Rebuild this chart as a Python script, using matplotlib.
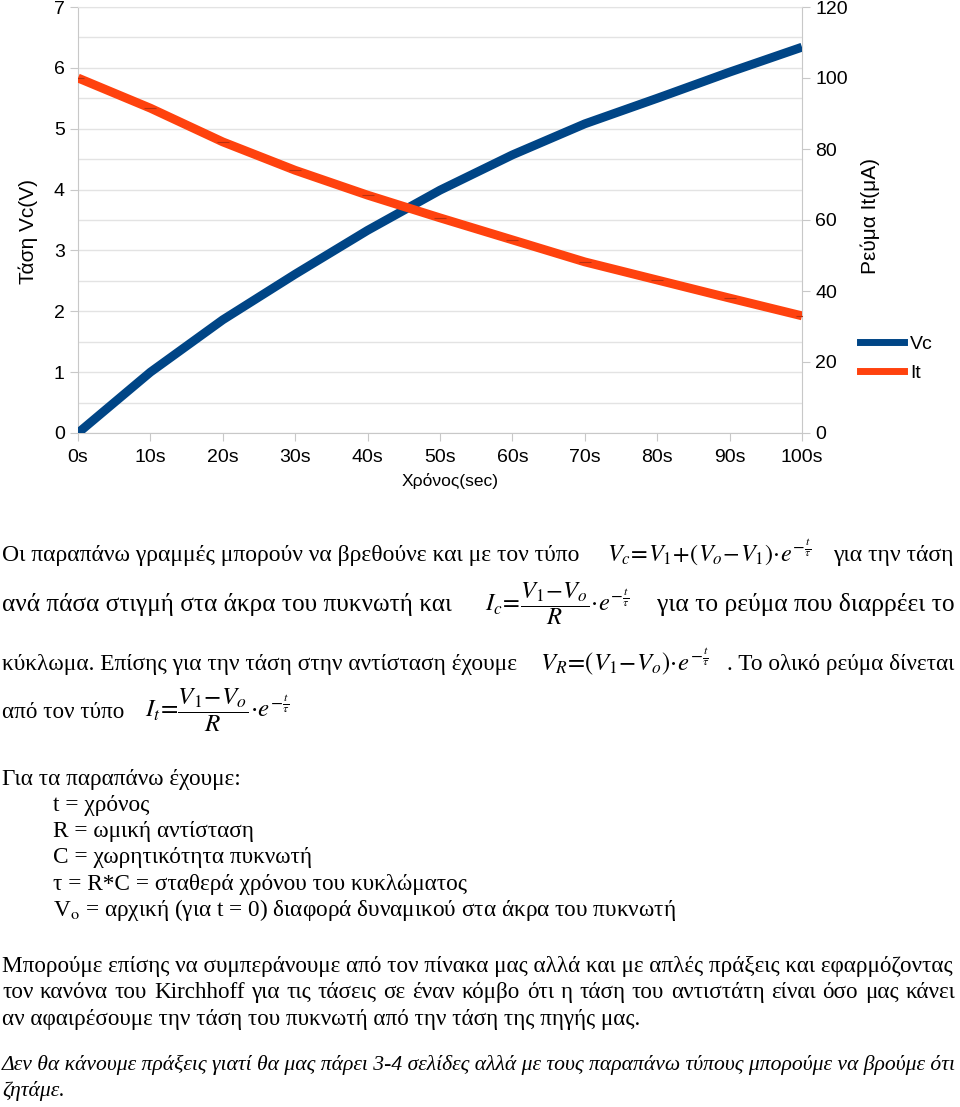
import matplotlib
matplotlib.use('Agg')
import matplotlib.pyplot as plt
from matplotlib.lines import Line2D
import numpy as np

plt.rcParams['font.family'] = ['Liberation Sans', 'DejaVu Sans']
plt.rcParams['mathtext.fontset'] = 'stix'

# data
times = [0, 10, 20, 30, 40, 50, 60, 70, 80, 90, 100]
time_labels = ['0s', '10s', '20s', '30s', '40s', '50s', '60s', '70s', '80s', '90s', '100s']
vc = [0.0, 1.0, 1.86, 2.61, 3.33, 3.99, 4.57, 5.08, 5.5, 5.93, 6.34]
it = [100, 91.5, 82, 74, 67, 60.6, 54.4, 48.2, 43.1, 38, 33]

blue = '#004586'
orange = '#ff420e'
grid_c = '#e3e3e3'
axis_c = '#c8c8c8'

W, H = 960, 1107
fig = plt.figure(figsize=(W / 100, H / 100), dpi=100)

# chart
ax = fig.add_axes([78 / W, 1 - 433 / H, (802 - 78) / W, (433 - 7) / H])
ax.plot(times, vc, color=blue, lw=6.4, solid_capstyle='butt', zorder=3)
ax.set_xlim(0, 100)
ax.set_ylim(0, 7)
ax.set_xticks(times)
ax.set_xticklabels(time_labels)
ax.set_yticks(range(8))
ax.set_yticks(np.arange(0.5, 7, 1), minor=True)
ax.grid(axis='y', which='both', color=grid_c, lw=1)
ax.set_axisbelow(True)
for sp in ax.spines.values():
    sp.set_color(axis_c)
ax.spines['top'].set_color(grid_c)
ax.tick_params(axis='both', which='major', labelsize=14, color=axis_c, length=5.5, pad=4)
ax.tick_params(axis='x', pad=6)
ax.tick_params(axis='y', which='minor', length=0)

ax2 = ax.twinx()
ax2.plot(times, it, color=orange, lw=6.4, solid_capstyle='butt', zorder=3,
         marker='_', markersize=9, markeredgecolor='#b83010', markeredgewidth=0.8)
ax2.set_ylim(0, 120)
ax2.set_yticks(range(0, 121, 20))
for sp in ax2.spines.values():
    sp.set_visible(False)
ax2.tick_params(axis='y', labelsize=14, color=axis_c, length=5.5, pad=4)

handles = [Line2D([], [], color=blue, lw=5), Line2D([], [], color=orange, lw=5)]
fig.legend(handles, ['Vc', 'It'], loc='upper left', bbox_to_anchor=(860 / W, 1 - 335 / H),
           bbox_transform=fig.transFigure, frameon=False, fontsize=14, borderpad=0,
           borderaxespad=0, handlelength=2.27, handletextpad=0.3, labelspacing=0.62)

# text layer in pixel coordinates
tx = fig.add_axes([0, 0, 1, 1])
tx.set_xlim(0, W)
tx.set_ylim(H, 0)
tx.axis('off')

tx.text(450, 481, 'Χρόνος(sec)', fontsize=12.5, ha='center', va='center')
tx.text(28, 232, 'Τάση Vc(V)', fontsize=15, rotation=90, ha='center', va='center')
tx.text(870, 216, 'Ρεύμα It(μA)', fontsize=15, rotation=90, ha='center', va='center')

rend = fig.canvas.get_renderer()


def width(t):
    return t.get_window_extent(renderer=rend).width


def put(x0, x1, y, s, size, just=False, **kw):
    # place a line of text; justify it to x1 or scale it to fit x1
    kw.setdefault('family', 'Liberation Serif')
    t = tx.text(x0, y, s, fontsize=size, ha='left', va='baseline', **kw)
    if x1 is None:
        return size
    w = width(t)
    if just and w < x1 - x0 and ' ' in s:
        t.remove()
        words = s.split(' ')
        parts = [tx.text(0, y, wd, fontsize=size, ha='left', va='baseline', **kw) for wd in words]
        ws = [width(p) for p in parts]
        gap = (x1 - x0 - sum(ws)) / (len(words) - 1)
        x = x0
        for p, wd in zip(parts, ws):
            p.set_x(x)
            x += wd + gap
        return size
    size = size * (x1 - x0) / w
    t.set_fontsize(size)
    return size


f_vc = r'$V_c\!=\!V_1\!+\!(V_o\!-\!V_1)\!\cdot\! e^{-\frac{t}{\tau}}$'
f_ic = r'$I_c\!=\!\dfrac{V_1\!-\!V_o}{R}\!\cdot\! e^{-\frac{t}{\tau}}$'
f_vr = r'$V_R\!=\!(V_1\!-\!V_o)\!\cdot\! e^{-\frac{t}{\tau}}$'
f_it = r'$I_t\!=\!\dfrac{V_1\!-\!V_o}{R}\!\cdot\! e^{-\frac{t}{\tau}}$'

ps = 18.5
put(2, 583, 561, 'Οι παραπάνω γραμμές μπορούν να βρεθούνε και με τον τύπο', ps, just=True)
put(607, 812, 561, f_vc, 17)
put(833, 955, 561, 'για την τάση', ps, just=True)

put(2, 452, 611, 'ανά πάσα στιγμή στα άκρα του πυκνωτή και', ps, just=True)
put(485, 630, 611, f_ic, 17)
put(657, 955, 611, 'για το ρεύμα που διαρρέει το', ps, just=True)

put(2, 519, 670, 'κύκλωμα. Επίσης για την τάση στην αντίσταση έχουμε', ps, just=True)
put(540, 710, 670, f_vr, 17)
put(727, 955, 670, '. Το ολικό ρεύμα δίνεται', ps, just=True)

put(2, 125, 718, 'από τον τύπο', ps, just=True)
put(145, 290, 718, f_it, 17)

# definitions block: one size, taken from the longest line
bs = put(53, 678, 916, r'V$_{\rm o}$ = αρχική (για t = 0) διαφορά δυναμικού στα άκρα του πυκνωτή', 15)
put(2, None, 785, 'Για τα παραπάνω έχουμε:', bs)
put(53, None, 811, 't = χρόνος', bs)
put(53, None, 837, 'R = ωμική αντίσταση', bs)
put(53, None, 863, 'C = χωρητικότητα πυκνωτή', bs)
put(53, None, 890, 'τ = R*C = σταθερά χρόνου του κυκλώματος', bs)

ms = put(2, 955, 972, 'Μπορούμε επίσης να συμπεράνουμε από τον πίνακα μας αλλά και με απλές πράξεις και εφαρμόζοντας',
         18, just=True)
put(2, 955, 998, 'τον κανόνα του Kirchhoff για τις τάσεις σε έναν κόμβο ότι η τάση του αντιστάτη είναι όσο μας κάνει',
    ms, just=True)
put(2, None, 1025, 'αν αφαιρέσουμε την τάση του πυκνωτή από την τάση της πηγής μας.', ms)

isz = put(2, 955, 1070, 'Δεν θα κάνουμε πράξεις γιατί θα μας πάρει 3-4 σελίδες αλλά με τους παραπάνω τύπους μπορούμε να βρούμε ότι',
          18, just=True, style='italic')
put(2, None, 1096, 'ζητάμε.', isz, style='italic')

fig.savefig('out.png', dpi=100)
